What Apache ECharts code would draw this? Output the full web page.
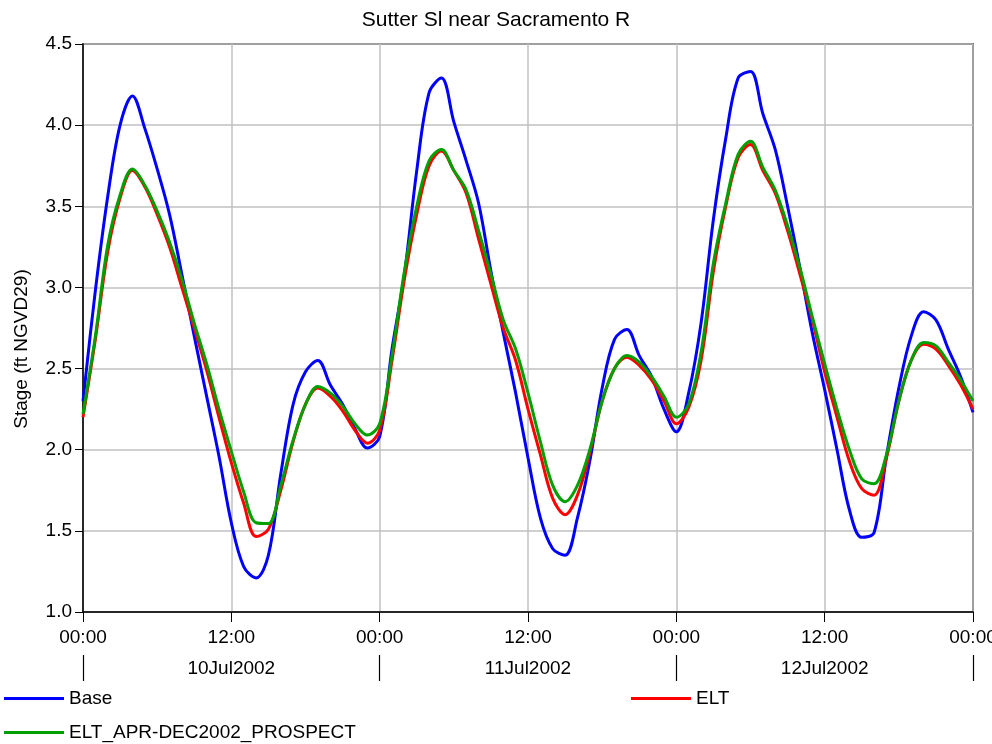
<!DOCTYPE html>
<html>
<head>
<meta charset="utf-8">
<script src="https://cdn.jsdelivr.net/npm/echarts@6/dist/echarts.min.js"></script>
<style>
html,body{margin:0;padding:0;background:#fff;}
#chart{width:992px;height:744px;}
</style>
</head>
<body>
<div id="chart"></div>
<script>
// Hours since 00:00 10Jul2002
var hours = [];
for (var i = 0; i <= 72; i++) hours.push(i);

var dateLabels = ['10Jul2002', '11Jul2002', '12Jul2002'];

var base = [2.30, 2.98, 3.56, 4.00, 4.18, 3.98, 3.73, 3.45, 3.08, 2.70, 2.33, 1.96, 1.55, 1.28, 1.21, 1.35, 1.85, 2.28, 2.48, 2.55, 2.40, 2.28, 2.13, 2.01, 2.08, 2.62, 3.08, 3.72, 4.20, 4.29, 4.02, 3.78, 3.52, 3.10, 2.72, 2.35, 1.95, 1.58, 1.39, 1.35, 1.58, 1.93, 2.38, 2.68, 2.74, 2.58, 2.45, 2.25, 2.11, 2.35, 2.78, 3.42, 3.92, 4.29, 4.33, 4.07, 3.85, 3.50, 3.12, 2.72, 2.37, 2.00, 1.63, 1.46, 1.49, 1.96, 2.38, 2.70, 2.85, 2.80, 2.62, 2.45, 2.23];

var elt = [2.20, 2.68, 3.22, 3.55, 3.72, 3.62, 3.45, 3.25, 3.00, 2.75, 2.49, 2.20, 1.92, 1.67, 1.465, 1.51, 1.75, 2.05, 2.28, 2.38, 2.33, 2.24, 2.12, 2.04, 2.12, 2.55, 3.05, 3.45, 3.75, 3.84, 3.72, 3.58, 3.30, 3.02, 2.75, 2.55, 2.25, 1.97, 1.70, 1.60, 1.72, 1.98, 2.30, 2.50, 2.57, 2.52, 2.43, 2.30, 2.16, 2.26, 2.55, 3.10, 3.50, 3.80, 3.88, 3.72, 3.58, 3.35, 3.08, 2.80, 2.48, 2.20, 1.93, 1.76, 1.72, 1.95, 2.30, 2.55, 2.65, 2.62, 2.52, 2.40, 2.25];

var prospect = [2.22, 2.70, 3.26, 3.57, 3.73, 3.63, 3.47, 3.28, 3.05, 2.78, 2.53, 2.25, 1.99, 1.74, 1.55, 1.545, 1.78, 2.06, 2.28, 2.39, 2.35, 2.27, 2.16, 2.09, 2.16, 2.58, 3.10, 3.50, 3.78, 3.85, 3.72, 3.60, 3.35, 3.08, 2.80, 2.62, 2.35, 2.05, 1.78, 1.68, 1.78, 2.00, 2.30, 2.50, 2.58, 2.54, 2.45, 2.33, 2.20, 2.28, 2.60, 3.15, 3.52, 3.82, 3.90, 3.74, 3.60, 3.38, 3.12, 2.82, 2.53, 2.25, 2.00, 1.82, 1.79, 1.97, 2.30, 2.55, 2.66, 2.64, 2.54, 2.43, 2.30];

function pairs(vals) {
  return hours.map(function (h, i) { return [h, vals[i]]; });
}

var FONT = 'Liberation Sans, Arial, sans-serif';
var FS = 19;
var chart = echarts.init(document.getElementById('chart'), null, {renderer: 'canvas'});

function legendAt(name, left, top) {
  return {
    data: [name], left: left, top: top, padding: 0, icon: 'rect', itemWidth: 60, itemHeight: 3,
    textStyle: {fontFamily: FONT, fontSize: FS, color: '#000'}
  };
}

var option = {
  backgroundColor: '#ffffff',
  animation: false,
  title: {
    text: 'Sutter Sl near Sacramento R',
    left: 'center',
    top: 5,
    textStyle: {fontFamily: FONT, fontSize: 21, fontWeight: 'normal', color: '#000'}
  },
  grid: {
    left: 83, right: 19, top: 44, bottom: 132,
    containLabel: false, outerBoundsMode: 'none',
    show: true, borderColor: '#000', borderWidth: 1.5, backgroundColor: 'transparent'
  },
  legend: [
    legendAt('Base', 4, 689),
    legendAt('ELT', 631, 689),
    legendAt('ELT_APR-DEC2002_PROSPECT', 4, 723)
  ],
  xAxis: [
    {
      type: 'value', min: 0, max: 72, interval: 12, position: 'bottom',
      axisLine: {show: true, lineStyle: {color: '#000', width: 1.5}},
      axisTick: {show: true, length: 10, lineStyle: {color: '#000', width: 1}},
      axisLabel: {
        margin: 16, fontFamily: FONT, fontSize: FS, color: '#000',
        formatter: function (v) { return (v % 24 === 0) ? '00:00' : '12:00'; }
      },
      splitLine: {show: true, lineStyle: {color: '#c0c0c0', width: 1.5}}
    },
    {
      type: 'category', data: dateLabels, position: 'bottom', offset: 43, boundaryGap: true,
      axisLine: {show: false},
      axisTick: {show: true, length: 26, lineStyle: {color: '#000', width: 1.2}},
      axisLabel: {margin: 4, fontFamily: FONT, fontSize: FS, color: '#000'},
      splitLine: {show: false}
    }
  ],
  yAxis: {
    type: 'value', min: 1.0, max: 4.5, interval: 0.5,
    name: 'Stage (ft NGVD29)', nameLocation: 'middle', nameGap: 52,
    nameTextStyle: {fontFamily: FONT, fontSize: FS, color: '#000', padding: [0, 42, 0, 0]},
    axisLine: {show: true, lineStyle: {color: '#000', width: 1.5}},
    axisTick: {show: true, length: 8, lineStyle: {color: '#000', width: 1}},
    axisLabel: {
      margin: 11, fontFamily: FONT, fontSize: FS, color: '#000',
      formatter: function (v) { return v.toFixed(1); }
    },
    splitLine: {show: true, lineStyle: {color: '#c0c0c0', width: 1.5}}
  },
  series: [
    {name: 'Base', type: 'line', xAxisIndex: 0, data: pairs(base), smooth: 0.35, symbol: 'none',
     lineStyle: {color: '#0000ff', width: 3}, itemStyle: {color: '#0000ff'}},
    {name: 'ELT', type: 'line', xAxisIndex: 0, data: pairs(elt), smooth: 0.35, symbol: 'none',
     lineStyle: {color: '#ff0000', width: 3}, itemStyle: {color: '#ff0000'}},
    {name: 'ELT_APR-DEC2002_PROSPECT', type: 'line', xAxisIndex: 0, data: pairs(prospect), smooth: 0.35, symbol: 'none',
     lineStyle: {color: '#00a000', width: 3}, itemStyle: {color: '#00a000'}}
  ]
};
chart.setOption(option);
</script>
</body>
</html>
